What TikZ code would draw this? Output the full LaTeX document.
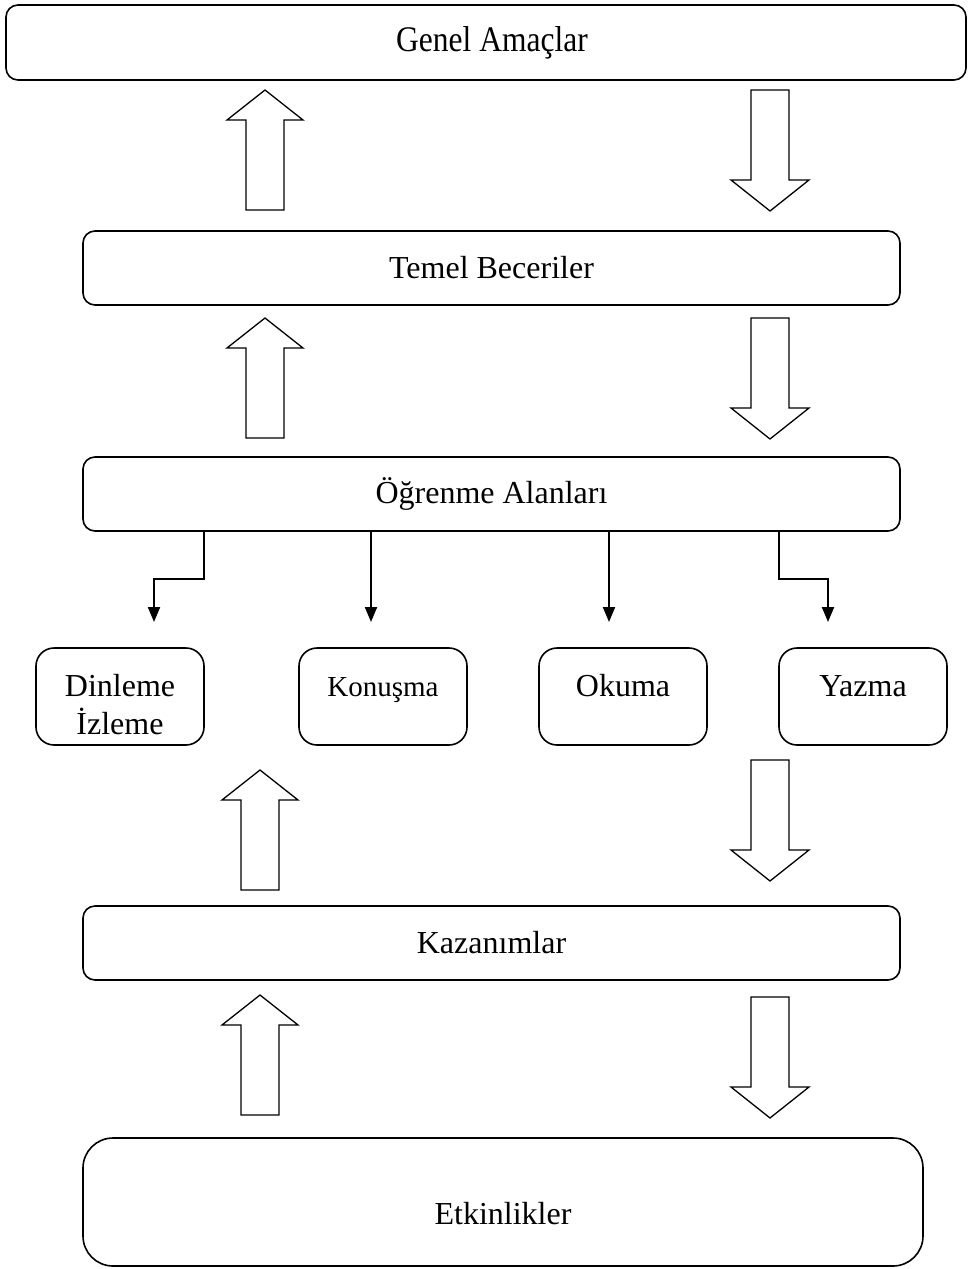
\documentclass[tikz,border=0pt]{standalone}
\usepackage{fontspec}
\setmainfont{Liberation Serif}
\newfontfamily\narrowserif[FakeStretch=0.875]{Liberation Serif}
\usetikzlibrary{arrows.meta}
\begin{document}
\begin{tikzpicture}[x=1pt,y=-1pt,
  box/.style={draw, line width=1.6pt, rounded corners=12pt, inner sep=0pt,
    font=\fontsize{32}{37}\selectfont},
  wide/.style={box, minimum width=817pt, minimum height=74pt},
  small/.style={box, rounded corners=18pt, minimum width=168pt, minimum height=97pt,
    text height=22pt, text depth=22pt},
  conn/.style={line width=2pt, -{Triangle[width=12pt,length=15pt]}},
  blk/.style={line width=1.3pt, line join=miter},
  uparr/.pic={\draw[blk] (0,0) -- (38,30) -- (19,30) -- (19,120) -- (-19,120) -- (-19,30) -- (-38,30) -- cycle;},
  downarr/.pic={\draw[blk] (-19,0) -- (19,0) -- (19,90) -- (39,90) -- (0,121) -- (-39,90) -- (-19,90) -- cycle;}
]
\useasboundingbox (0,0) rectangle (969,1269);

\node[box, minimum width=960pt, minimum height=75pt, font=\narrowserif\fontsize{36}{40}\selectfont] (genel) at (486,42.5) {\hspace*{12pt}Genel Amaçlar};
\node[wide] (temel) at (491.5,268) {Temel Beceriler};
\node[wide] (ogrenme) at (491.5,494) {Öğrenme Alanları};

\node[small] (dinleme) at (120,696.5) {\begin{tabular}[t]{@{}c@{}}Dinleme\\İzleme\end{tabular}};
\node[small, font=\fontsize{29}{33}\selectfont] (konusma) at (383,696.5) {Konuşma};
\node[small] (okuma) at (623,696.5) {Okuma};
\node[small] (yazma) at (863,696.5) {Yazma};

\node[wide] (kazanim) at (491.5,943) {Kazanımlar};
\node[box, rounded corners=30pt, minimum width=840pt, minimum height=128pt,
  text height=44pt, text depth=0pt] (etkinlik) at (503,1202) {Etkinlikler};

% block arrows
\pic at (265,90) {uparr};
\pic at (770,90) {downarr};
\pic at (265,318) {uparr};
\pic at (770,318) {downarr};
\pic at (260,770) {uparr};
\pic at (770,760) {downarr};
\pic at (260,995) {uparr};
\pic at (770,997) {downarr};

% branch connectors
\coordinate (b1) at (204,0);
\coordinate (b2) at (371,0);
\coordinate (b3) at (609,0);
\coordinate (b4) at (779,0);
\coordinate (t1) at (154,622);
\coordinate (t2) at (371,622);
\coordinate (t3) at (609,622);
\coordinate (t4) at (828,622);
\draw[conn] (ogrenme.south -| b1) -- ++(0,47) -| (t1);
\draw[conn] (ogrenme.south -| b2) -- (t2);
\draw[conn] (ogrenme.south -| b3) -- (t3);
\draw[conn] (ogrenme.south -| b4) -- ++(0,47) -| (t4);
\end{tikzpicture}
\end{document}
